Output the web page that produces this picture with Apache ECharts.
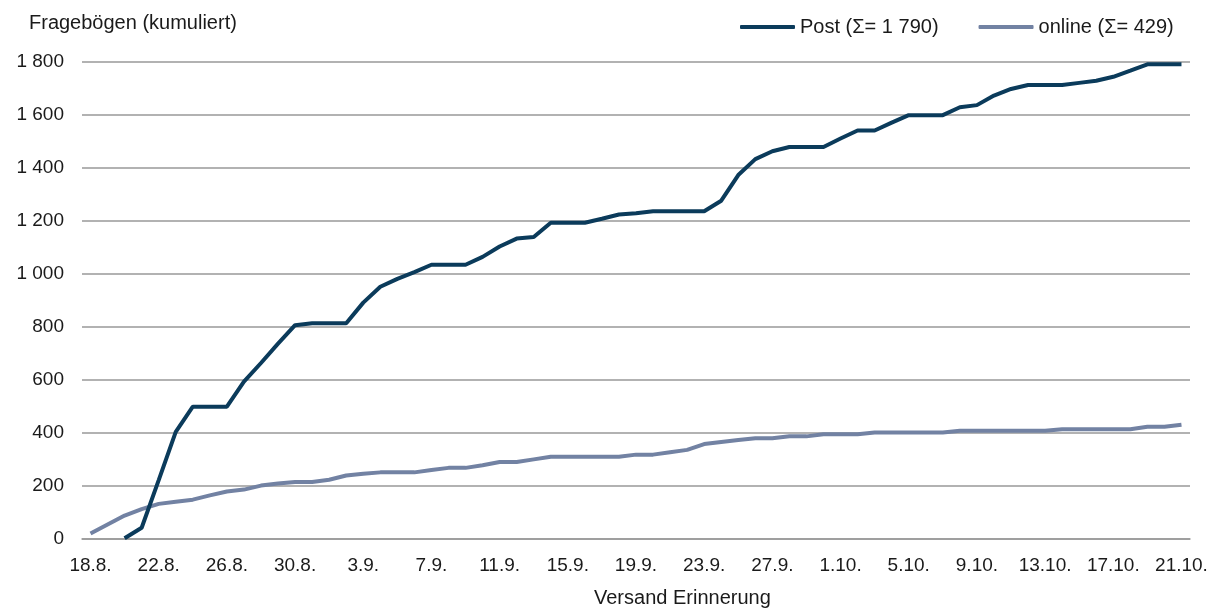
<!DOCTYPE html>
<html>
<head>
<meta charset="utf-8">
<script src="https://cdn.jsdelivr.net/npm/echarts@6/dist/echarts.min.js"></script>
<style>html,body{margin:0;padding:0;background:#fff}#c{width:1223px;height:608px}</style>
</head>
<body>
<div id="c"></div>
<script>
var categories = ['18.8.','19.8.','20.8.','21.8.','22.8.','23.8.','24.8.','25.8.','26.8.','27.8.','28.8.','29.8.','30.8.','31.8.',
  '1.9.','2.9.','3.9.','4.9.','5.9.','6.9.','7.9.','8.9.','9.9.','10.9.','11.9.','12.9.','13.9.','14.9.','15.9.','16.9.','17.9.','18.9.','19.9.','20.9.','21.9.','22.9.','23.9.','24.9.','25.9.','26.9.','27.9.','28.9.','29.9.','30.9.',
  '1.10.','2.10.','3.10.','4.10.','5.10.','6.10.','7.10.','8.10.','9.10.','10.10.','11.10.','12.10.','13.10.','14.10.','15.10.','16.10.','17.10.','18.10.','19.10.','20.10.','21.10.'];
var postValues = [null,null,0,40,220,402,497,497,497,592,662,735,805,812,812,812,890,950,980,1005,1033,1033,1033,1063,1102,1132,1138,1192,1192,1192,1207,1223,1228,1235,1235,1235,1235,1275,1372,1432,1462,1478,1478,1478,1510,1540,1540,1570,1598,1598,1598,1628,1636,1672,1697,1712,1712,1712,1720,1728,1743,1766,1790,1790,1790];
var onlineValues = [18,52,86,110,130,138,146,162,177,184,199,207,213,213,221,237,244,249,249,249,258,266,266,276,288,288,298,308,308,308,308,308,316,316,325,334,356,364,371,378,378,385,385,393,393,393,400,400,400,400,400,406,406,406,406,406,406,412,412,412,412,412,421,421,429];
var seriesNames = ['Post (\u03A3= 1 790)', 'online (\u03A3= 429)'];
var yTicks = [0,200,400,600,800,1000,1200,1400,1600,1800];
var titleText = 'Fragebögen (kumuliert)';
var xName = 'Versand Erinnerung';

var FONT = 'Liberation Sans';
var TXT = '#1a1a1a';
var chart = echarts.init(document.getElementById('c'), null, {renderer:'canvas'});
chart.setOption({
  animation: false,
  backgroundColor: '#fff',
  title: [
    {text: titleText, left: 24, top: 8, textStyle:{fontFamily:FONT, fontSize:20, fontWeight:'normal', color:TXT}},
    {text: xName, left: 589, top: 583, textStyle:{fontFamily:FONT, fontSize:20, fontWeight:'normal', color:TXT}}
  ],
  legend: {
    left: 735, top: 12, itemWidth: 55, itemHeight: 4, itemGap: 40, icon: 'roundRect',
    textStyle:{fontFamily:FONT, fontSize:20, color:TXT},
    data: seriesNames
  },
  grid: {left: 82, right: 33, top: 61.7, bottom: 69.7, containLabel: false},
  xAxis: {
    type: 'category', data: categories, boundaryGap: true,
    axisLine: {lineStyle:{color:'#999', width:1.5}},
    axisTick: {interval: 3, length: 5, lineStyle:{color:'#999', width:1.5}},
    axisLabel: {interval: 3, margin: 18, fontFamily:FONT, fontSize:19, color:TXT}
  },
  yAxis: {
    type: 'value', min: 0, max: 1800, interval: 200,
    axisLine: {show:false}, axisTick: {show:false},
    splitLine: {lineStyle:{color:'#999', width:1.5}},
    axisLabel: {margin: 18, fontFamily:FONT, fontSize:19, color:TXT,
      formatter: function(v){ return yTicks.indexOf(v) >= 0 ? String(v).replace(/\B(?=(\d{3})+(?!\d))/g,' ') : ''; }}
  },
  series: [
    {name: seriesNames[0], type:'line', data: postValues, symbol:'none', connectNulls:false,
     lineStyle:{color:'#0b3b5b', width:4}, itemStyle:{color:'#0b3b5b'}, z:3},
    {name: seriesNames[1], type:'line', data: onlineValues, symbol:'none',
     lineStyle:{color:'#7282a3', width:4}, itemStyle:{color:'#7282a3'}, z:2}
  ]
});
</script>
</body>
</html>
